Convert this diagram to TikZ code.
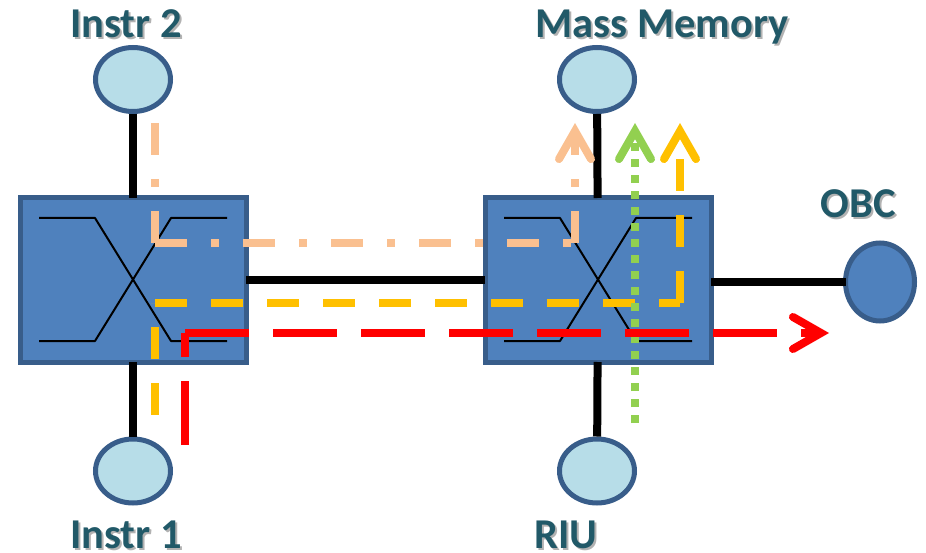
\documentclass[tikz,border=0pt]{standalone}
\usepackage{fontspec}
\setmainfont{Carlito}
\usetikzlibrary{arrows.meta,shapes.geometric}
\definecolor{boxblue}{HTML}{4F81BD}
\definecolor{edgeblue}{HTML}{385D8A}
\definecolor{paleblue}{HTML}{B7DDE8}
\definecolor{labelteal}{HTML}{215968}
\definecolor{peachline}{HTML}{FAC090}
\definecolor{yellowline}{HTML}{FFC000}
\definecolor{greenline}{HTML}{92D050}
\newcommand{\shadowed}[1]{\rlap{\kern2pt\raisebox{-2pt}{\textcolor{black!30}{#1}}}#1}
\begin{document}
\begin{tikzpicture}[x=1pt,y=-1pt,
  switchbox/.style={draw=edgeblue, fill=boxblue, line width=5pt, minimum width=226pt, minimum height=164pt, inner sep=0pt, outer sep=0pt},
  unit/.style={draw=edgeblue, fill=paleblue, ellipse, line width=5pt, minimum width=75pt, minimum height=64pt, inner sep=0pt},
  obcunit/.style={unit, fill=boxblue, minimum width=69pt, minimum height=78pt, outer sep=0pt},
  label/.style={font=\fontsize{42.5}{42.5}\bfseries, text=labelteal, inner sep=0pt, anchor=base},
  link/.style={line width=8pt},
  wire/.style={line width=2pt, line join=round},
  route/.style={line width=8pt},
  head/.style={-{Straight Barb[line cap=round,line join=miter,length=28pt,width=32pt]}}
]
\useasboundingbox (0,0) rectangle (926,553);

\node[switchbox] (sw1) at (133,280) {};
\node[switchbox] (sw2) at (598,280) {};
\node[unit] (instr2) at (133,79.5) {};
\node[unit] (instr1) at (133,471) {};
\node[unit] (mem) at (597,79.5) {};
\node[unit] (riu) at (597,471) {};
\node[obcunit] (obc) at (880,282) {};

\node[label] (instr2text) at (126,38) {\shadowed{Instr 2}};
\node[label] (instr1text) at (126,548) {\shadowed{Instr 1}};
\node[label] (memtext) at (662,38) {\shadowed{Mass Memory}};
\node[label] (riutext) at (566,548) {\shadowed{RIU}};
\node[label] (obctext) at (858,218) {\shadowed{OBC}};

% links
\draw[link] (instr2) -- (sw1);
\draw[link] (instr1) -- (sw1);
\draw[link] (mem) -- (sw2);
\draw[link] (riu) -- (sw2);
\draw[link] (sw1) -- (sw2);
\draw[link] (sw2.east |- obc) -- (obc);

% crossings in the switches
\foreach \sw in {sw1,sw2} {
  \draw[wire] ([shift={(-94,-62)}]\sw.center) -- ++(56,0) -- ++(76,123) -- ++(56,0);
  \draw[wire] ([shift={(-94,61)}]\sw.center) -- ++(56,0) -- ++(76,-123) -- ++(56,0);
}

% routes
\coordinate (pa) at (155,123);
\coordinate (pb) at (155,243);
\coordinate (pc) at (575,243);
\coordinate (pd) at (575,123);
\draw[route,peachline,dash pattern=on 32pt off 24pt on 8pt off 24pt] (pa) -- (pb);
\draw[route,peachline,dash pattern=on 32pt off 24pt on 8pt off 24pt] (pb) -- (pc);
\draw[route,peachline,head,dash pattern=on 32pt off 24pt on 8pt off 24pt] (pc) -- (pd);

\coordinate (ya) at (155,415);
\coordinate (yb) at (155,303);
\coordinate (yc) at (680,303);
\coordinate (yd) at (680,123);
\draw[route,yellowline,dash pattern=on 32pt off 24pt] (ya) -- (yb);
\draw[route,yellowline,dash pattern=on 32pt off 24pt] (yb) -- (yc);
\draw[route,yellowline,head,dash pattern=on 32pt off 24pt] (yc) -- (yd);

\coordinate (ga) at (635,423);
\coordinate (gb) at (635,123);
\draw[route,greenline,head,dash pattern=on 8pt off 8pt] (ga) -- (gb);

\coordinate (ra) at (185,445);
\coordinate (rb) at (185,333);
\coordinate (rc) at (829,333);
\draw[route,red,dash pattern=on 64pt off 24pt] (ra) -- (rb);
\draw[route,red,head,dash pattern=on 64pt off 24pt] (rb) -- (rc);
\end{tikzpicture}
\end{document}
